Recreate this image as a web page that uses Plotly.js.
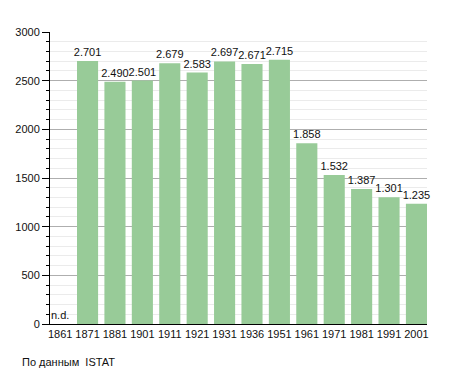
<!DOCTYPE html>
<html>
<head>
<meta charset="utf-8">
<script src="https://cdn.plot.ly/plotly-3.0.1.min.js"></script>
<style>html,body{margin:0;padding:0;background:#fff;}#chart{width:455px;height:373px;}</style>
</head>
<body>
<div id="chart"></div>
<script>
const years = ["1861","1871","1881","1901","1911","1921","1931","1936","1951","1961","1971","1981","1991","2001"];
const population = [null,2701,2490,2501,2679,2583,2697,2671,2715,1858,1532,1387,1301,1235];
const yTicks = [0,500,1000,1500,2000,2500,3000];
const noDataLabel = "n.d.";
const sourceNote = "По данным  ISTAT";

const labels = population.map(v => v === null ? "" : v.toLocaleString("de-DE"));

const trace = {
  type: "bar",
  x: years,
  y: population,
  text: labels,
  textposition: "outside",
  constraintext: "none",
  cliponaxis: false,
  textfont: {family: "Liberation Sans, Arial, sans-serif", size: 11, color: "#111"},
  marker: {color: "#98cb98", line: {width: 0}},
  width: 0.77,
  hoverinfo: "x+y"
};

const layout = {
  width: 455, height: 373,
  margin: {l: 50, r: 28, t: 32, b: 49},
  paper_bgcolor: "#fff", plot_bgcolor: "#fff",
  showlegend: false,
  font: {family: "Liberation Sans, Arial, sans-serif", size: 11, color: "#111"},
  xaxis: {
    type: "category",
    categoryorder: "array", categoryarray: years,
    range: [-0.37, years.length - 1 + 0.385],
    showgrid: false,
    showline: true, linecolor: "#000", linewidth: 1,
    ticks: "", tickfont: {size: 11}, zeroline: false
  },
  yaxis: {
    range: [0, 3000],
    tickvals: yTicks,
    ticks: "outside", ticklen: 7, tickcolor: "#000",
    showline: true, linecolor: "#000", linewidth: 1,
    showgrid: true, gridcolor: "#aeaeae", gridwidth: 1,
    zeroline: false,
    tickfont: {size: 11},
    minor: {dtick: 100, ticks: "outside", ticklen: 3, tickcolor: "#000", showgrid: true, gridcolor: "#ebebeb", gridwidth: 1}
  },
  annotations: [
    {x: 0, y: 0, xref: "x", yref: "y", text: noDataLabel, showarrow: false,
     xanchor: "center", yanchor: "bottom", yshift: 1, font: {size: 11, color: "#111"}},
    {x: 0, y: 0, xref: "paper", yref: "paper", xshift: -30, yshift: -38, text: sourceNote, showarrow: false,
     xanchor: "left", yanchor: "middle", font: {size: 11, color: "#111"}}
  ]
};

Plotly.newPlot("chart", [trace], layout, {displayModeBar: false, staticPlot: true});
</script>
</body>
</html>
